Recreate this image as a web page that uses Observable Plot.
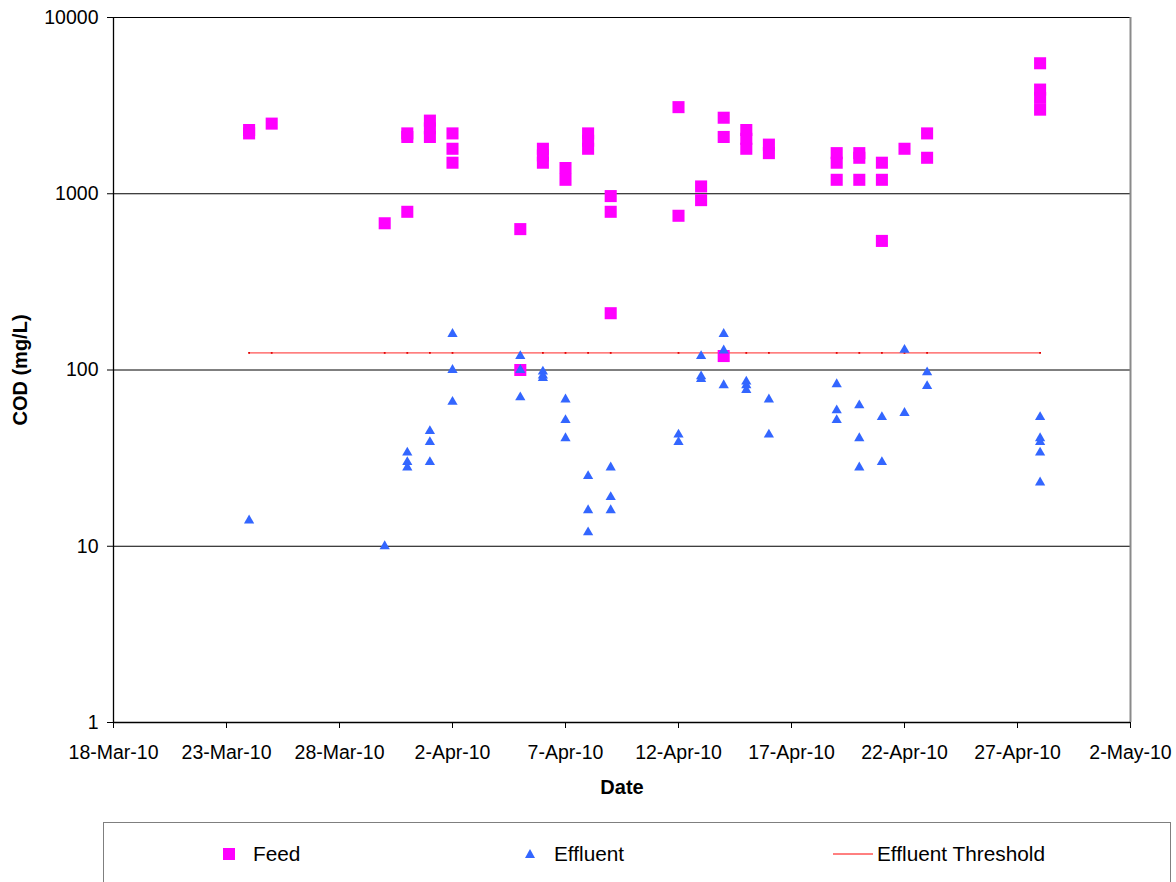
<!DOCTYPE html>
<html>
<head>
<meta charset="utf-8">
<script src="https://cdn.jsdelivr.net/npm/d3@7"></script>
<script src="https://cdn.jsdelivr.net/npm/@observablehq/plot@0.6"></script>
<style>
  html, body { margin: 0; padding: 0; background: #fff; }
  body { font-family: "Liberation Sans", Arial, sans-serif; width: 1176px; height: 882px; overflow: hidden; position: relative; }
  #chart { position: absolute; left: 0; top: 0; }
  #legend { position: absolute; left: 103px; top: 822px; width: 1068px; height: 90px; border: 1px solid #7f7f7f; box-sizing: border-box; }
  .item { position: absolute; top: 19px; height: 24px; display: flex; align-items: center; font-size: 20.8px; color: #000; }
  .item svg { display: block; }
</style>
</head>
<body>
<div id="chart"></div>
<div id="legend"></div>
<script>
// ---- data ----
const xTickLabels = ["2010-03-18","2010-03-23","2010-03-28","2010-04-02","2010-04-07","2010-04-12","2010-04-17","2010-04-22","2010-04-27","2010-05-02"];
const yTickLabels = [1, 10, 100, 1000, 10000];

const feedDates = [
  "2010-03-24","2010-03-24",
  "2010-03-25",
  "2010-03-30",
  "2010-03-31","2010-03-31","2010-03-31",
  "2010-04-01","2010-04-01","2010-04-01",
  "2010-04-02","2010-04-02","2010-04-02",
  "2010-04-05","2010-04-05",
  "2010-04-06","2010-04-06","2010-04-06",
  "2010-04-07","2010-04-07",
  "2010-04-08","2010-04-08","2010-04-08",
  "2010-04-09","2010-04-09","2010-04-09",
  "2010-04-12","2010-04-12",
  "2010-04-13","2010-04-13",
  "2010-04-14","2010-04-14","2010-04-14",
  "2010-04-15","2010-04-15","2010-04-15",
  "2010-04-16","2010-04-16",
  "2010-04-19","2010-04-19","2010-04-19",
  "2010-04-20","2010-04-20","2010-04-20",
  "2010-04-21","2010-04-21","2010-04-21",
  "2010-04-22",
  "2010-04-23","2010-04-23",
  "2010-04-28","2010-04-28","2010-04-28","2010-04-28"
];
const feedValues = [
  2300, 2200,
  2500,
  680,
  2200, 2100, 790,
  2600, 2350, 2100,
  2200, 1800, 1500,
  630, 100,
  1800, 1650, 1500,
  1400, 1200,
  2200, 2000, 1800,
  970, 790, 210,
  3100, 750,
  1100, 920,
  2700, 2100, 120,
  2300, 2050, 1800,
  1900, 1700,
  1700, 1500, 1200,
  1700, 1600, 1200,
  1500, 1200, 540,
  1800,
  2200, 1600,
  5500, 3900, 3500, 3000
];

const effluentDates = [
  "2010-03-24",
  "2010-03-30",
  "2010-03-31","2010-03-31","2010-03-31",
  "2010-04-01","2010-04-01","2010-04-01",
  "2010-04-02","2010-04-02","2010-04-02",
  "2010-04-05","2010-04-05","2010-04-05",
  "2010-04-06","2010-04-06","2010-04-06",
  "2010-04-07","2010-04-07","2010-04-07",
  "2010-04-08","2010-04-08","2010-04-08",
  "2010-04-09","2010-04-09","2010-04-09",
  "2010-04-12","2010-04-12",
  "2010-04-13","2010-04-13","2010-04-13",
  "2010-04-14","2010-04-14","2010-04-14",
  "2010-04-15","2010-04-15","2010-04-15",
  "2010-04-16","2010-04-16",
  "2010-04-19","2010-04-19","2010-04-19",
  "2010-04-20","2010-04-20","2010-04-20",
  "2010-04-21","2010-04-21",
  "2010-04-22","2010-04-22",
  "2010-04-23","2010-04-23",
  "2010-04-28","2010-04-28","2010-04-28","2010-04-28","2010-04-28"
];
const effluentValues = [
  14,
  10,
  34, 30, 28,
  45, 39, 30,
  160, 100, 66,
  120, 100, 70,
  98, 93, 90,
  68, 52, 41,
  25, 16, 12,
  28, 19, 16,
  43, 39,
  120, 92, 89,
  160, 129, 82,
  86, 82, 77,
  68, 43,
  83, 59, 52,
  63, 41, 28,
  54, 30,
  130, 57,
  97, 81,
  54, 41, 39, 34, 23
];

const thresholdDates = ["2010-03-24","2010-03-25","2010-03-30","2010-03-31","2010-04-01","2010-04-02","2010-04-05","2010-04-06","2010-04-07","2010-04-08","2010-04-09","2010-04-12","2010-04-13","2010-04-14","2010-04-15","2010-04-16","2010-04-19","2010-04-20","2010-04-21","2010-04-22","2010-04-23","2010-04-28"];
const thresholdValue = 125;

const seriesNames = ["Feed", "Effluent", "Effluent Threshold"];
const seriesColors = ["#ff00ff", "#3366ff", "#ff0000"];

// ---- build tables ----
const parse = s => new Date(s + "T00:00:00Z");
const feed = feedDates.map((d, i) => ({date: parse(d), value: feedValues[i]}));
const effluent = effluentDates.map((d, i) => ({date: parse(d), value: effluentValues[i]}));
const threshold = thresholdDates.map(d => ({date: parse(d), value: thresholdValue}));
const xTicks = xTickLabels.map(parse);
const xDomain = [xTicks[0], xTicks[xTicks.length - 1]];
const fmt = d3.utcFormat("%-d-%b-%y");

const chart = Plot.plot({
  width: 1176,
  height: 805,
  marginLeft: 113,
  marginRight: 46,
  marginTop: 17,
  marginBottom: 83,
  style: {fontFamily: "'Liberation Sans', Arial, sans-serif", fontSize: "19.5px", color: "#000", background: "#fff", overflow: "visible"},
  x: {type: "utc", domain: xDomain},
  y: {type: "log", domain: [yTickLabels[0], yTickLabels[yTickLabels.length - 1]]},
  marks: [
    Plot.ruleY(yTickLabels.slice(1), {stroke: "#000", strokeWidth: 1}),
    Plot.ruleX([xDomain[1]], {stroke: "#8a8a8a", strokeWidth: 2}),
    Plot.ruleX([xDomain[0]], {stroke: "#000", strokeWidth: 1.3}),
    Plot.ruleY([yTickLabels[0]], {stroke: "#000", strokeWidth: 1.3}),
    Plot.axisX({ticks: xTicks, tickFormat: fmt, tickSize: 6, tickPadding: 17, label: null}),
    Plot.axisY({ticks: yTickLabels, tickFormat: d => String(d), tickSize: 6, tickPadding: 9, label: null}),
    Plot.lineY(threshold, {x: "date", y: "value", stroke: seriesColors[2], strokeWidth: 1, strokeOpacity: 0.85}),
    Plot.dot(threshold, {x: "date", y: "value", symbol: "square", r: 1, fill: "#e00000"}),
    Plot.dot(feed, {x: "date", y: "value", symbol: "square", r: 6.8, fill: seriesColors[0]}),
    Plot.dot(effluent, {x: "date", y: "value", symbol: "triangle", r: 3.8, fill: seriesColors[1]}),
    Plot.text(["Date"], {frameAnchor: "bottom", dy: 65, lineAnchor: "middle", textAnchor: "middle", fontWeight: "bold", fill: "#000", fontSize: 20}),
    Plot.text(["COD (mg/L)"], {frameAnchor: "left", dx: -93, rotate: -90, lineAnchor: "middle", textAnchor: "middle", fontWeight: "bold", fill: "#000", fontSize: 20})
  ]
});
document.getElementById("chart").appendChild(chart);

// ---- legend ----
const legend = document.getElementById("legend");
const swatches = [
  `<svg width="14" height="14"><rect x="1" y="1" width="12" height="12" fill="${seriesColors[0]}"/></svg>`,
  `<svg width="12" height="12"><path d="M6,1 L11,10 L1,10 Z" fill="${seriesColors[1]}"/></svg>`,
  `<svg width="42" height="6"><line x1="0" y1="3" x2="40" y2="3" stroke="${seriesColors[2]}" stroke-width="1"/></svg>`
];
const lefts = [118, 420, 729];
const gaps = [17, 18, 2];
seriesNames.forEach((name, i) => {
  const el = document.createElement("div");
  el.className = "item";
  el.style.left = lefts[i] + "px";
  el.innerHTML = swatches[i].replace('<svg', `<svg style="margin-right:${gaps[i]}px"`) + `<span>${name}</span>`;
  legend.appendChild(el);
});
</script>
</body>
</html>
